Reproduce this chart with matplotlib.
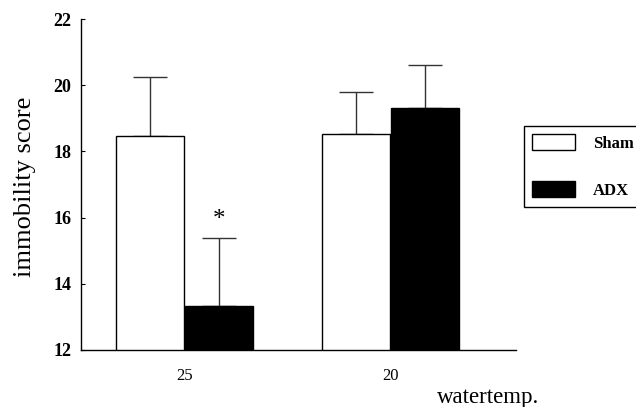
import matplotlib
matplotlib.use("Agg")
import matplotlib.pyplot as plt
from matplotlib.patches import Patch
import numpy as np

categories = ["25", "20"]
series = ["Sham", "ADX"]
sham_mean = [18.47, 18.53]
sham_err = [1.78, 1.27]
adx_mean = [13.33, 19.32]
adx_err = [2.05, 1.28]
yticks = [12, 14, 16, 18, 20, 22]

serif = ["Liberation Serif", "DejaVu Serif"]

fig = plt.figure(figsize=(6.36, 4.07), dpi=100)
ax = fig.add_axes([81/636, 1-350/407, (516-81)/636, (350-19)/407])

x = np.arange(len(categories))
w = 0.33
off = 0.1675
ax.bar(x - off, sham_mean, width=w, color="white", edgecolor="black", linewidth=1.0, zorder=2)
ax.bar(x + off, adx_mean, width=w, color="black", edgecolor="black", linewidth=1.0, zorder=2)
ax.errorbar(x - off, sham_mean, yerr=[np.zeros(2), sham_err], fmt="none", ecolor="#333333",
            elinewidth=1.0, capsize=12, capthick=1.0, zorder=1)
ax.errorbar(x + off, adx_mean, yerr=[np.zeros(2), adx_err], fmt="none", ecolor="#333333",
            elinewidth=1.0, capsize=12, capthick=1.0, zorder=1)

ax.text(x[0] + off, adx_mean[0] + adx_err[0] + 0.55, "*", ha="center", va="center",
        fontsize=18, family=serif)

ax.set_xlim(-0.5, 1.61)
ax.set_ylim(12, 22)
ax.set_yticks(yticks)
ax.set_yticklabels([str(t) for t in yticks], fontsize=13, fontweight="bold", family=serif)
ax.set_xticks(x)
ax.set_xticklabels(categories, fontsize=12, family=serif)
ax.tick_params(axis="y", direction="in", length=3, width=0.8, pad=7)
ax.tick_params(axis="x", length=0, pad=13)
for s in ["top", "right"]:
    ax.spines[s].set_visible(False)
for s in ["left", "bottom"]:
    ax.spines[s].set_linewidth(1.0)

ax.set_ylabel("immobility score", fontsize=19, family=serif)
ax.yaxis.set_label_coords((25-81)/435, (350-186.5)/331)
ax.yaxis.label.set_va("center")
ax.set_xlabel("watertemp.", fontsize=16.5, family=serif)
ax.xaxis.set_label_coords((488-81)/435, (350-397)/331)
ax.xaxis.label.set_va("center")

handles = [Patch(facecolor="white", edgecolor="black", linewidth=1.0),
           Patch(facecolor="black", edgecolor="black", linewidth=1.0)]
leg = fig.legend(handles, series, loc="upper left", bbox_to_anchor=(524/636, 1-126/407),
                 prop={"family": serif, "weight": "bold", "size": 12},
                 frameon=True, fancybox=False, edgecolor="black", framealpha=1,
                 handlelength=2.55, handleheight=1.08, handletextpad=1.1,
                 labelspacing=1.75, borderpad=0.5, borderaxespad=0)
leg.get_frame().set_linewidth(1.0)

fig.savefig("out.png", dpi=100)
